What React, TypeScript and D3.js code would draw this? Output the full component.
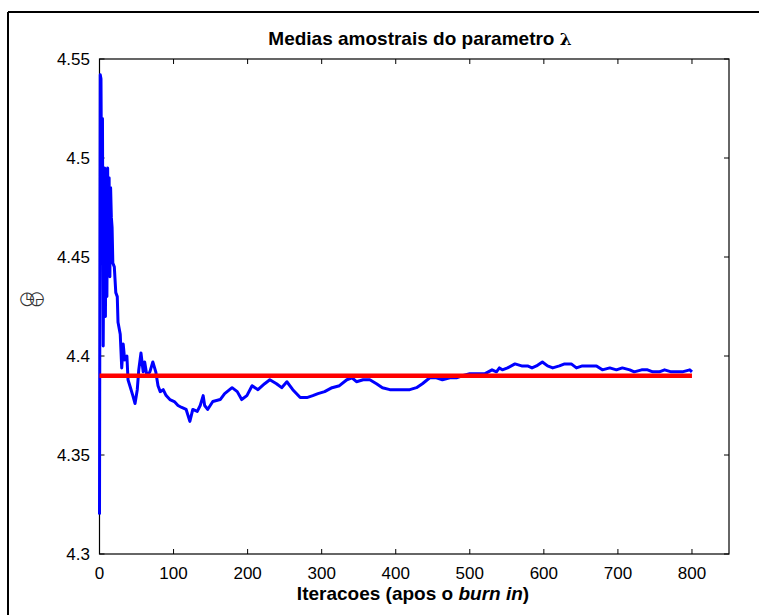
import React from "react";
import * as d3 from "d3";

const iterations = [0, 1, 2, 3, 4, 5, 6, 7, 8, 9, 10, 11, 12, 13, 14, 15, 16, 17, 18, 20, 22, 24, 25, 28, 30, 32, 34, 37, 38.5, 41, 45, 48, 51, 53, 56, 59, 61, 64, 68, 72, 76, 79, 82, 86, 90, 95, 101, 106, 111, 117, 122, 126, 132, 136, 140, 142, 146, 153, 163, 169, 179, 186, 192, 199, 206, 214, 223, 230, 239, 246, 253, 261, 271, 280, 288, 295, 304, 314, 324, 334, 341, 347, 356, 365, 374, 382, 392, 401, 409, 419, 428, 436, 446, 455, 463, 473, 482, 490, 500, 507, 520, 530, 536, 540, 544, 551, 561, 570, 578, 584, 590, 598, 605, 612, 621, 628, 637, 644, 652, 662, 671, 679, 689, 698, 706, 716, 722, 732, 740, 747, 756, 763, 772, 780, 787, 797, 800];
const sampleMeans = [4.32, 4.542, 4.54, 4.47, 4.52, 4.405, 4.47, 4.495, 4.42, 4.49, 4.43, 4.495, 4.45, 4.49, 4.44, 4.485, 4.47, 4.465, 4.447, 4.445, 4.432, 4.43, 4.417, 4.411, 4.394, 4.406, 4.398, 4.4, 4.388, 4.385, 4.38, 4.376, 4.383, 4.393, 4.4015, 4.392, 4.397, 4.39, 4.392, 4.397, 4.392, 4.385, 4.382, 4.383, 4.38, 4.378, 4.377, 4.375, 4.374, 4.373, 4.367, 4.373, 4.372, 4.375, 4.38, 4.375, 4.373, 4.377, 4.378, 4.381, 4.384, 4.382, 4.378, 4.38, 4.385, 4.383, 4.386, 4.388, 4.386, 4.384, 4.387, 4.383, 4.379, 4.379, 4.38, 4.381, 4.382, 4.384, 4.385, 4.388, 4.389, 4.387, 4.388, 4.388, 4.386, 4.384, 4.383, 4.383, 4.383, 4.383, 4.384, 4.386, 4.389, 4.389, 4.388, 4.389, 4.389, 4.39, 4.391, 4.391, 4.391, 4.393, 4.392, 4.394, 4.393, 4.394, 4.396, 4.395, 4.395, 4.394, 4.395, 4.397, 4.395, 4.394, 4.395, 4.396, 4.396, 4.394, 4.395, 4.395, 4.395, 4.393, 4.394, 4.393, 4.394, 4.393, 4.392, 4.393, 4.393, 4.392, 4.392, 4.393, 4.392, 4.392, 4.392, 4.393, 4.392];
const referenceIter = [0, 800];
const referenceValue = [4.39, 4.39];
const xTicks = [0, 100, 200, 300, 400, 500, 600, 700, 800];
const yTicks = [4.3, 4.35, 4.4, 4.45, 4.5, 4.55];
const yTickLabels = ["4.3", "4.35", "4.4", "4.45", "4.5", "4.55"];
const titleText = "Medias amostrais do parametro ";
const titleSymbol = "λ";

const W = 759;
const H = 615;
const left = 99.5;
const right = 729;
const top = 59;
const bottom = 554;

export default function App() {
  const x = d3.scaleLinear().domain([0, 850]).range([left, right]);
  const y = d3.scaleLinear().domain([4.3, 4.55]).range([bottom, top]);
  const line = d3
    .line<number>()
    .x((_, i) => x(iterations[i]))
    .y((d) => y(d));
  const refLine = d3
    .line<number>()
    .x((_, i) => x(referenceIter[i]))
    .y((d) => y(d));
  const font = "'Liberation Sans', Arial, sans-serif";
  const tl = 5;
  return (
    <svg
      width={W}
      height={H}
      style={{ position: "absolute", left: 0, top: 0, background: "#fff" }}
    >
      <rect x={0} y={0} width={W} height={H} fill="#fff" />
      <line x1={8} y1={12} x2={W} y2={12} stroke="#000" strokeWidth={2} />
      <line x1={8} y1={12} x2={8} y2={H} stroke="#000" strokeWidth={2} />
      <rect x={left} y={top} width={right - left} height={bottom - top} fill="#fff" stroke="#000" strokeWidth={1.2} />
      {xTicks.map((t) => (
        <g key={"x" + t}>
          <line x1={x(t)} x2={x(t)} y1={bottom} y2={bottom - tl} stroke="#000" />
          <line x1={x(t)} x2={x(t)} y1={top} y2={top + tl} stroke="#000" />
          <text x={x(t)} y={579} textAnchor="middle" fontFamily={font} fontSize={17}>
            {t}
          </text>
        </g>
      ))}
      {yTicks.map((t, i) => (
        <g key={"y" + t}>
          <line x1={left} x2={left + tl} y1={y(t)} y2={y(t)} stroke="#000" />
          <line x1={right} x2={right - tl} y1={y(t)} y2={y(t)} stroke="#000" />
          <text x={90} y={y(t) + 6} textAnchor="end" fontFamily={font} fontSize={17}>
            {yTickLabels[i]}
          </text>
        </g>
      ))}
      <path d={line(sampleMeans) || ""} fill="none" stroke="#0000ff" strokeWidth={3} strokeLinejoin="round" />
      <path d={refLine(referenceValue) || ""} fill="none" stroke="#ff0000" strokeWidth={4.5} />
      <text x={420} y={45} textAnchor="middle" fontFamily={font} fontSize={19} fontWeight="bold">
        {titleText}
        <tspan fontFamily="'DejaVu Serif', serif" fontSize={17}>{titleSymbol}</tspan>
      </text>
      <text x={413} y={600} textAnchor="middle" fontFamily={font} fontSize={19} fontWeight="bold">
        Iteracoes (apos o <tspan fontStyle="italic">burn in</tspan>)
      </text>
      <text x={29} y={304} textAnchor="middle" fontFamily="'DejaVu Sans', sans-serif" fontSize={18} letterSpacing={-6} fill="#333">
        ◷◶
      </text>
    </svg>
  );
}
